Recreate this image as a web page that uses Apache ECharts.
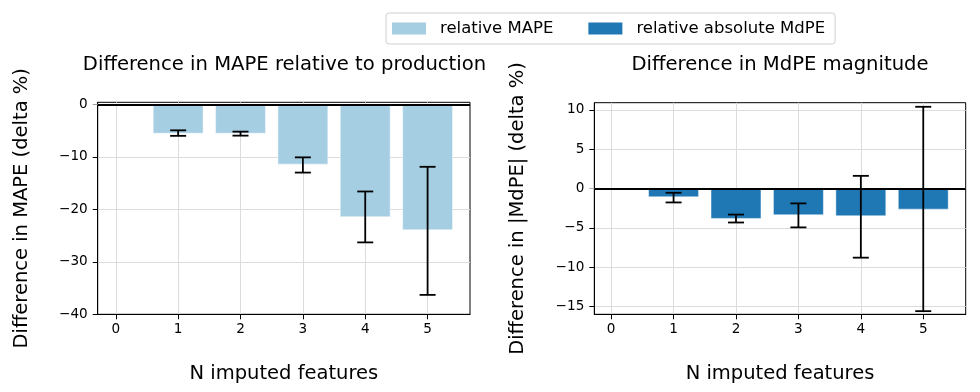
<!DOCTYPE html>
<html>
<head>
<meta charset="utf-8">
<script src="https://cdn.jsdelivr.net/npm/echarts@6/dist/echarts.min.js"></script>
<style>html,body{margin:0;padding:0;background:#fff;}#c{width:980px;height:392px;}</style>
</head>
<body>
<div id="c"></div>
<script>
const categories = [0, 1, 2, 3, 4, 5];
const mapeValues = [0, -5.5, -5.5, -11.4, -21.4, -23.9];
const mapeErrLow = [null, -6.0, -5.96, -13.0, -26.3, -36.3];
const mapeErrHigh = [null, -4.95, -5.2, -10.1, -16.6, -11.9];
const mdpeValues = [0, -1.06, -3.81, -3.35, -3.47, -2.63];
const mdpeErrLow = [null, -1.78, -4.33, -4.95, -8.8, -15.6];
const mdpeErrHigh = [null, -0.55, -3.32, -1.9, 1.6, 10.38];
const mapeTicks = [-40, -30, -20, -10, 0];
const mdpeTicks = [-15, -10, -5, 0, 5, 10];
const xTicks = [0, 1, 2, 3, 4, 5];

const FONT = 'DejaVu Sans';
const chart = echarts.init(document.getElementById('c'), null, {renderer: 'canvas'});

function barItem(params, api) {
  const x = api.value(0), v = api.value(1);
  const p1 = api.coord([x - 0.4, v]);
  const p2 = api.coord([x + 0.4, 0]);
  return {
    type: 'rect',
    shape: {x: Math.min(p1[0], p2[0]), y: Math.min(p1[1], p2[1]), width: Math.abs(p2[0] - p1[0]), height: Math.abs(p2[1] - p1[1])},
    style: {fill: api.visual('color'), stroke: 'rgba(255,255,255,0.45)', lineWidth: 1}
  };
}
function errItem(params, api) {
  const x = api.value(0);
  const lo = api.coord([x, api.value(1)]);
  const hi = api.coord([x, api.value(2)]);
  const hw = 8;
  const st = {stroke: '#000', lineWidth: 1.8};
  return {
    type: 'group',
    children: [
      {type: 'line', shape: {x1: lo[0], y1: lo[1], x2: hi[0], y2: hi[1]}, style: st},
      {type: 'line', shape: {x1: lo[0] - hw, y1: lo[1], x2: lo[0] + hw, y2: lo[1]}, style: st},
      {type: 'line', shape: {x1: hi[0] - hw, y1: hi[1], x2: hi[0] + hw, y2: hi[1]}, style: st}
    ]
  };
}
function xAxisCfg(idx, min, max) {
  return {
    type: 'value', gridIndex: idx, min: min, max: max,
    name: 'N imputed features', nameLocation: 'middle', nameGap: 50,
    nameTextStyle: {fontFamily: FONT, fontSize: 19.5, color: '#000'},
    axisLine: {show: true, onZero: false, lineStyle: {color: '#000', width: 1}},
    axisTick: {show: true, length: 5, customValues: xTicks, lineStyle: {color: '#000'}},
    axisLabel: {customValues: xTicks, margin: 8, fontFamily: FONT, fontSize: 13.6, color: '#000'},
    splitLine: {show: true, lineStyle: {color: '#dcdcdc', width: 1}}
  };
}
function yAxisCfg(idx, min, max, ticks, name) {
  return {
    type: 'value', gridIndex: idx, min: min, max: max,
    name: name, nameLocation: 'middle', nameGap: 66,
    nameTextStyle: {fontFamily: FONT, fontSize: 19.5, color: '#000'},
    axisLine: {show: true, onZero: false, lineStyle: {color: '#000', width: 1}},
    axisTick: {show: true, length: 5, customValues: ticks, lineStyle: {color: '#000'}},
    axisLabel: {customValues: ticks, margin: 10, fontFamily: FONT, fontSize: 13.6, color: '#000',
      formatter: v => (v < 0 ? '\u2212' + Math.abs(v) : String(v))},
    splitLine: {show: true, lineStyle: {color: '#dcdcdc', width: 1}}
  };
}
const zeroLine = {
  silent: true, symbol: 'none', label: {show: false},
  lineStyle: {color: '#000', width: 2, type: 'solid'},
  data: [{yAxis: 0}]
};

const option = {
  animation: false,
  backgroundColor: '#fff',
  grid: [
    {left: 97.7, top: 102.3, width: 372.3, height: 212, show: true, borderColor: '#000', borderWidth: 1, containLabel: false},
    {left: 594.3, top: 102.7, width: 371.4, height: 211.6, show: true, borderColor: '#000', borderWidth: 1, containLabel: false}
  ],
  xAxis: [xAxisCfg(0, -0.29, 5.68), xAxisCfg(1, -0.27, 5.68)],
  yAxis: [
    yAxisCfg(0, -40, 0.39, mapeTicks, 'Difference in MAPE (delta %)'),
    yAxisCfg(1, -16.0, 10.9, mdpeTicks, 'Difference in |MdPE| (delta %)')
  ],
  legend: {
    left: 386, top: 13, orient: 'horizontal',
    padding: [7, 10, 7, 6], itemGap: 35, itemWidth: 34, itemHeight: 12,
    borderColor: '#d0d0d0', borderWidth: 1, borderRadius: 3, backgroundColor: '#fff',
    textStyle: {fontFamily: FONT, fontSize: 16.5, color: '#000', padding: [0, 0, 0, 9]},
    data: [
      {name: 'relative MAPE', icon: 'rect', itemStyle: {color: '#a6cee3'}},
      {name: 'relative absolute MdPE', icon: 'rect', itemStyle: {color: '#1f78b4'}}
    ]
  },
  graphic: [
    {type: 'text', x: 284.5, y: 65, style: {text: 'Difference in MAPE relative to production', font: '19.6px "DejaVu Sans"', fill: '#000', textAlign: 'center', textVerticalAlign: 'middle'}},
    {type: 'text', x: 780, y: 65, style: {text: 'Difference in MdPE magnitude', font: '19.6px "DejaVu Sans"', fill: '#000', textAlign: 'center', textVerticalAlign: 'middle'}}
  ],
  series: [
    {
      name: 'relative MAPE', type: 'custom', xAxisIndex: 0, yAxisIndex: 0,
      itemStyle: {color: '#a6cee3'}, renderItem: barItem, z: 2,
      data: categories.map((c, i) => [c, mapeValues[i]]),
      markLine: zeroLine
    },
    {
      name: 'relative absolute MdPE', type: 'custom', xAxisIndex: 1, yAxisIndex: 1,
      itemStyle: {color: '#1f78b4'}, renderItem: barItem, z: 2,
      data: categories.map((c, i) => [c, mdpeValues[i]]),
      markLine: zeroLine
    },
    {
      name: 'mapeErr', type: 'custom', xAxisIndex: 0, yAxisIndex: 0, renderItem: errItem, z: 5,
      data: categories.map((c, i) => [c, mapeErrLow[i], mapeErrHigh[i]]).filter(d => d[1] !== null)
    },
    {
      name: 'mdpeErr', type: 'custom', xAxisIndex: 1, yAxisIndex: 1, renderItem: errItem, z: 5,
      data: categories.map((c, i) => [c, mdpeErrLow[i], mdpeErrHigh[i]]).filter(d => d[1] !== null)
    }
  ]
};
chart.setOption(option);
</script>
</body>
</html>
